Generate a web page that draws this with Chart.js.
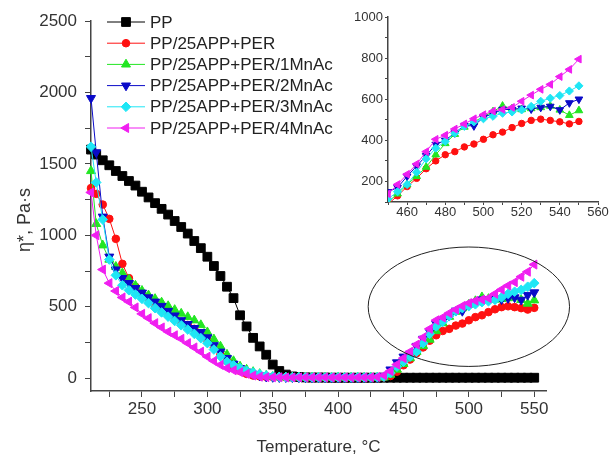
<!DOCTYPE html>
<html lang="en">
<head>
<meta charset="UTF-8">
<title>Complex viscosity vs temperature</title>
<script src="https://cdn.jsdelivr.net/npm/chart.js"></script>
<style>
    body { margin: 0; background: #fff; }
    #wrap { position: relative; width: 611px; height: 458px; }
    #mainChart { position: absolute; left: 0; top: 0; }
    #insetChart { position: absolute; left: 340px; top: 0; }
</style>
</head>
<body>
<div id="wrap">
    <canvas id="mainChart" width="611" height="458"></canvas>
    <canvas id="insetChart" width="271" height="225"></canvas>
</div>
<script>
// temperature, °C
const temps = [211, 215, 220, 225, 230, 235, 240, 245, 250, 255,
    260, 265, 270, 275, 280, 285, 290, 295, 300, 305,
    310, 315, 320, 325, 330, 335, 340, 345, 350, 355,
    360, 365, 370, 375, 380, 385, 390, 395, 400, 405,
    410, 415, 420, 425, 430, 435, 440, 445, 450, 455,
    460, 465, 470, 475, 480, 485, 490, 495, 500, 505,
    510, 515, 520, 525, 530, 535, 540, 545, 550];

// complex viscosity η*, Pa·s
const ppVisc = [1600, 1565, 1525, 1490, 1450, 1415, 1380, 1348, 1305, 1265,
    1225, 1185, 1145, 1100, 1058, 1012, 960, 910, 850, 785,
    715, 640, 560, 440, 362, 282, 222, 164, 95, 50,
    25, 12, 8, 5, 4, 4, 4, 3, 3, 3,
    3, 3, 3, 3, 3, 3, 3, 3, 3, 3,
    3, 3, 3, 3, 3, 3, 3, 3, 3, 3,
    3, 3, 3, 3, 3, 3, 3, 3, 3];
const perVisc = [1330, 1290, 1215, 1115, 975, 800, 700, 640, 590, 550,
    512, 478, 448, 418, 392, 372, 345, 305, 265, 215,
    165, 120, 80, 50, 30, 18, 12, 9, 8, 7,
    7, 6, 6, 6, 5, 5, 5, 5, 5, 5,
    5, 5, 5, 5, 5, 6, 15, 45, 90, 130,
    175, 215, 262, 300, 330, 345, 368, 382, 405, 427,
    440, 462, 482, 497, 503, 497, 490, 480, 492];
const mn1Visc = [1450, 1080, 930, 830, 780, 735, 690, 648, 612, 580,
    555, 530, 505, 478, 452, 428, 405, 372, 322, 272,
    222, 165, 120, 82, 60, 44, 30, 18, 10, 7,
    6, 6, 6, 5, 5, 5, 5, 5, 5, 5,
    5, 5, 5, 5, 5, 5, 25, 60, 100, 140,
    185, 225, 270, 330, 385, 430, 465, 490, 515, 540,
    567, 555, 550, 555, 560, 567, 548, 522, 545];
const mn2Visc = [1960, 1580, 1130, 850, 760, 700, 665, 630, 598, 565,
    535, 505, 470, 438, 405, 378, 350, 322, 285, 230,
    185, 140, 100, 70, 45, 30, 18, 10, 7, 6,
    6, 6, 5, 5, 5, 5, 5, 5, 5, 5,
    5, 5, 5, 5, 6, 15, 60, 110, 150, 170,
    225, 275, 325, 380, 400, 436, 472, 470, 512, 530,
    550, 550, 556, 552, 560, 565, 548, 582, 600];
const mn3Visc = [1620, 1370, 1110, 830, 720, 650, 615, 585, 555, 525,
    490, 460, 430, 400, 370, 340, 310, 280, 245, 200,
    152, 115, 90, 70, 52, 40, 28, 18, 12, 9,
    8, 7, 7, 6, 6, 6, 6, 6, 6, 6,
    6, 6, 6, 6, 7, 10, 35, 80, 115, 150,
    185, 245, 310, 362, 395, 435, 468, 490, 505, 517,
    532, 538, 548, 565, 590, 605, 618, 640, 665];
const mn4Visc = [1300, 1000, 760, 665, 610, 565, 535, 495, 450, 420,
    385, 355, 325, 300, 275, 245, 215, 185, 150, 120,
    93, 70, 55, 42, 30, 18, 10, 7, 6, 6,
    5, 5, 5, 5, 5, 5, 5, 5, 5, 5,
    5, 5, 5, 6, 8, 20, 50, 95, 140, 185,
    235, 285, 345, 405, 425, 455, 480, 505, 525, 542,
    550, 560, 590, 620, 648, 672, 710, 745, 795];

const seriesNames = ['PP', 'PP/25APP+PER', 'PP/25APP+PER/1MnAc',
    'PP/25APP+PER/2MnAc', 'PP/25APP+PER/3MnAc', 'PP/25APP+PER/4MnAc'];
const allSeries = [ppVisc, perVisc, mn1Visc, mn2Visc, mn3Visc, mn4Visc];

// styles
const seriesColors = ['#000000', '#ff1010', '#22e622', '#0a0ac8', '#1ee6f5', '#f01ef0'];
const markerStyles = ['rect', 'circle', 'triangle', 'triangle', 'rectRot', 'triangle'];
const markerRotations = [0, 0, 0, 180, 0, -90];
const markerRadii = [6.2, 3.8, 5.2, 5.2, 4.8, 5.2];

// the oval drawn round the 450-550 °C region (data units)
const ovalCenter = [500, 500];
const ovalRadius = [77, 418];

const fontFamily = '"Liberation Sans", Arial, sans-serif';
const inkColor = '#333';

function makeDataset(i, sizeFactor, clip) {
    return {
        label: seriesNames[i],
        data: temps.map((t, k) => ({ x: t, y: allSeries[i][k] })),
        borderColor: seriesColors[i],
        backgroundColor: seriesColors[i],
        borderWidth: 1,
        pointStyle: markerStyles[i],
        pointRotation: markerRotations[i],
        pointRadius: markerRadii[i] * sizeFactor,
        pointBorderWidth: 1,
        tension: 0,
        order: 5 - i,
        clip: clip
    };
}

const ovalPlugin = {
    id: 'oval',
    afterDatasetsDraw(chart) {
        const x = chart.scales.x, y = chart.scales.y, ctx = chart.ctx;
        const cx = x.getPixelForValue(ovalCenter[0]);
        const cy = y.getPixelForValue(ovalCenter[1]);
        const rx = x.getPixelForValue(ovalCenter[0] + ovalRadius[0]) - cx;
        const ry = cy - y.getPixelForValue(ovalCenter[1] + ovalRadius[1]);
        ctx.save();
        ctx.strokeStyle = '#222';
        ctx.lineWidth = 1;
        ctx.beginPath();
        ctx.ellipse(cx, cy, rx, ry, 0, 0, Math.PI * 2);
        ctx.stroke();
        ctx.restore();
    }
};

// Origin style legend: line with marker, then name
const legendPlugin = {
    id: 'originLegend',
    afterDraw(chart) {
        const ctx = chart.ctx;
        ctx.save();
        ctx.font = '17px ' + fontFamily;
        ctx.textBaseline = 'middle';
        ctx.textAlign = 'left';
        seriesNames.forEach((name, i) => {
            const y = 22 + i * 21.2;
            ctx.strokeStyle = seriesColors[i];
            ctx.fillStyle = seriesColors[i];
            ctx.lineWidth = 1;
            ctx.beginPath();
            ctx.moveTo(107, y);
            ctx.lineTo(145, y);
            ctx.stroke();
            Chart.helpers.drawPoint(ctx, {
                pointStyle: markerStyles[i],
                rotation: markerRotations[i],
                radius: markerRadii[i],
                borderWidth: 1
            }, 126, y);
            ctx.fillStyle = '#222';
            ctx.fillText(name, 150, y + 1);
        });
        ctx.restore();
    }
};

const yTitlePlugin = {
    id: 'yTitle',
    afterDraw(chart) {
        const ctx = chart.ctx;
        ctx.save();
        ctx.translate(25, 220);
        ctx.rotate(-Math.PI / 2);
        ctx.font = '18px ' + fontFamily;
        ctx.fillStyle = inkColor;
        ctx.textAlign = 'center';
        ctx.textBaseline = 'middle';
        ctx.fillText('η*, Pa·s', 0, 0);
        ctx.restore();
    }
};

new Chart(document.getElementById('mainChart'), {
    type: 'line',
    data: { datasets: allSeries.map((s, i) => makeDataset(i, 1, false)) },
    options: {
        responsive: false,
        animation: false,
        layout: { padding: { top: 21, right: 65, left: 0, bottom: 0 } },
        plugins: { legend: { display: false }, tooltip: { enabled: false } },
        scales: {
            x: {
                type: 'linear',
                min: 211,
                max: 559,
                afterFit: s => { s.height = 67; },
                ticks: {
                    stepSize: 25,
                    includeBounds: false,
                    autoSkip: false,
                    maxRotation: 0,
                    padding: 2,
                    color: inkColor,
                    font: { family: fontFamily, size: 17 },
                    callback: v => (v % 50 === 0 ? String(v) : '')
                },
                grid: { drawOnChartArea: false, drawTicks: true, tickLength: 6, color: '#444' },
                border: { display: true, color: '#444', width: 1.5 },
                title: {
                    display: true,
                    text: 'Temperature, °C',
                    color: inkColor,
                    font: { family: fontFamily, size: 17 },
                    padding: { top: 5, bottom: 0 }
                }
            },
            y: {
                min: -90,
                max: 2500,
                afterFit: s => { s.width = 91; },
                ticks: {
                    stepSize: 250,
                    includeBounds: false,
                    autoSkip: false,
                    padding: 8,
                    color: inkColor,
                    font: { family: fontFamily, size: 17 },
                    callback: v => (v % 500 === 0 ? String(v) : '')
                },
                grid: { drawOnChartArea: false, drawTicks: true, tickLength: 6, color: '#444' },
                border: { display: true, color: '#444', width: 1.5 }
            }
        }
    },
    plugins: [ovalPlugin, legendPlugin, yTitlePlugin]
});

// inset: zoom on 450-560 °C
new Chart(document.getElementById('insetChart'), {
    type: 'line',
    data: { datasets: allSeries.map((s, i) => makeDataset(i, 0.85, 0)).slice(1) },
    options: {
        responsive: false,
        animation: false,
        layout: { padding: { top: 17, right: 13, left: 0, bottom: 0 } },
        plugins: { legend: { display: false }, tooltip: { enabled: false } },
        scales: {
            x: {
                type: 'linear',
                min: 450,
                max: 560,
                afterFit: s => { s.height = 23; },
                ticks: {
                    stepSize: 10,
                    autoSkip: false,
                    maxRotation: 0,
                    padding: 0,
                    color: inkColor,
                    font: { family: fontFamily, size: 13 },
                    callback: v => (v % 20 === 0 && v > 450 ? String(v) : '')
                },
                grid: { drawOnChartArea: false, drawTicks: true, tickLength: 3, color: '#444' },
                border: { display: true, color: '#444', width: 1.5 }
            },
            y: {
                min: 100,
                max: 1000,
                afterFit: s => { s.width = 48; },
                ticks: {
                    stepSize: 100,
                    autoSkip: false,
                    padding: 2,
                    color: inkColor,
                    font: { family: fontFamily, size: 13 },
                    callback: v => (v % 200 === 0 ? String(v) : '')
                },
                grid: { drawOnChartArea: false, drawTicks: true, tickLength: 3, color: '#444' },
                border: { display: true, color: '#444', width: 1.5 }
            }
        }
    }
});
</script>
</body>
</html>
